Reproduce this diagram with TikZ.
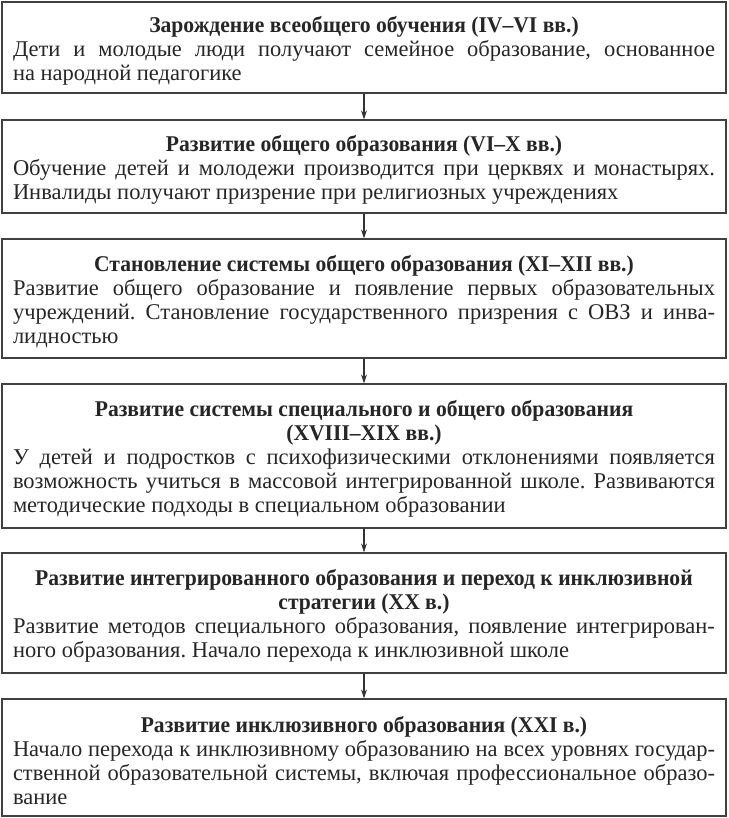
\documentclass[tikz,border=0pt]{standalone}
\usepackage{fontspec}
\setmainfont{Liberation Serif}[BoldFeatures={FakeStretch=0.96}]
\usepackage{tikz}
\usetikzlibrary{arrows.meta}
\frenchspacing
\newcommand\stagetitle[1]{{\centering\bfseries\rule{0pt}{22pt}#1\par}\noindent}

\begin{document}
\begin{tikzpicture}[x=1pt, y=1pt,
    >={Stealth[length=9pt, width=6pt]},
    stage/.style={draw=black!75, line width=1.3pt, text=black!85,
      text width=702pt, inner xsep=11pt, inner ysep=0pt, align=justify,
      font=\fontsize{22.5}{24}\selectfont},
    link/.style={->, draw=black!80, line width=1.1pt}]
  \useasboundingbox (0,0) rectangle (728,-818);
  \node[stage, minimum height=91pt] (A) at (364,-47.5) {\stagetitle{Зарождение всеобщего обучения (IV–VI вв.)}Дети и молодые люди получают семейное образование, основанное\linebreak на народной педагогике};
  \node[stage, minimum height=93pt] (B) at (364,-166.5) {\stagetitle{Развитие общего образования (VI–X вв.)}Обучение детей и молодежи производится при церквях и монастырях.\linebreak Инвалиды получают призрение при религиозных учреждениях};
  \node[stage, minimum height=119pt] (C) at (364,-298.5) {\stagetitle{Становление системы общего образования (XI–XII вв.)}Развитие общего образование и появление первых образовательных\linebreak учреждений. Становление государственного призрения с ОВЗ и инва-\linebreak лидностью};
  \node[stage, minimum height=144pt] (D) at (364,-456) {\stagetitle{Развитие системы специального и общего образования\\(XVIII–XIX вв.)}У детей и подростков с психофизическими отклонениями появляется\linebreak возможность учиться в массовой интегрированной школе. Развиваются\linebreak методические подходы в специальном образовании};
  \node[stage, minimum height=120pt] (E) at (364,-613) {\stagetitle{Развитие интегрированного образования и переход к инклюзивной\\стратегии (XX в.)}Развитие методов специального образования, появление интегрирован-\linebreak ного образования. Начало перехода к инклюзивной школе};
  \node[stage, minimum height=117pt] (F) at (364,-757.5) {\stagetitle{Развитие инклюзивного образования (XXI в.)}Начало перехода к инклюзивному образованию на всех уровнях государ-\linebreak ственной образовательной системы, включая профессиональное образо-\linebreak вание};
  \path [link] (A) edge (B);
  \path [link] (B) edge (C);
  \path [link] (C) edge (D);
  \path [link] (D) edge (E);
  \path [link] (E) edge (F);
\end{tikzpicture}
\end{document}
